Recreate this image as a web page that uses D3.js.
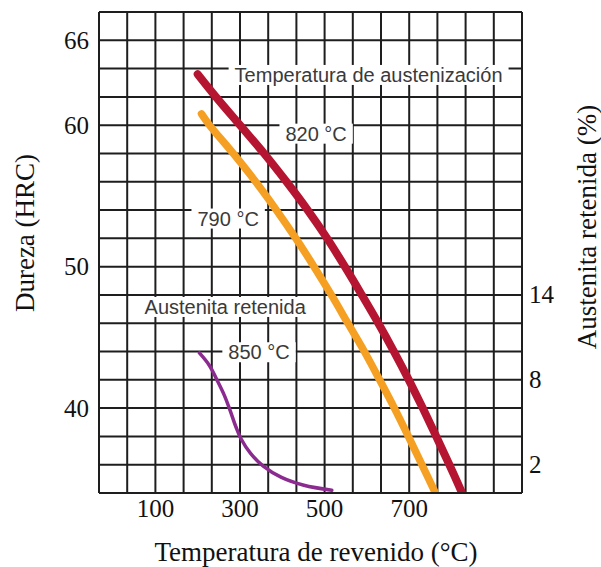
<!DOCTYPE html>
<html>
<head>
<meta charset="utf-8">
<script src="https://cdn.jsdelivr.net/npm/d3@7"></script>
<style>
	body { margin: 0; background: #fff; }
	svg { display: block; }
</style>
</head>
<body>
<div id="chart"></div>
<script>
// tick labels
var tempTicks = [100, 300, 500, 700];
var hrcTicks = [40, 50, 60, 66];
var austTicks = [2, 8, 14];

// dureza (HRC) vs temperatura de revenido, por temperatura de austenizacion
var curve820 = [[200, 63.6], [243, 62], [300, 60], [357, 58], [410, 56], [460, 54], [506, 52], [548, 50],
	[588, 48], [627, 46], [664, 44], [699, 42], [732, 40], [764, 38], [795, 36], [825, 34]];
var curve790 = [[209, 60.8], [228, 60], [284, 58], [337, 56], [386, 54], [432, 52], [475, 50], [516, 48],
	[555, 46], [594, 44], [630, 42], [665, 40], [698, 38], [730, 36], [762, 34]];
// austenita retenida (%) a 850 C
var curve850 = [[204, 9.9], [228, 9.0], [247, 7.9], [263, 6.9], [277, 5.8], [290, 4.7], [303, 3.8],
	[325, 2.8], [355, 1.9], [398, 1.1], [451, 0.55], [517, 0.2]];

var labels = [
	{ "text": "Temperatura de austenización", "t": 604, "h": 63.55 },
	{ "text": "820 °C", "t": 480, "h": 59.4 },
	{ "text": "790 °C", "t": 272, "h": 53.4 },
	{ "text": "Austenita retenida", "t": 265, "h": 47.15 },
	{ "text": "850 °C", "t": 345, "h": 43.95 }
];

var W = 601, H = 567;
var plotLeft = 99, plotRight = 522, plotTop = 12, plotBottom = 493;

var svg = d3.select("#chart").append("svg")
	.attr("width", W)
	.attr("height", H);

var x = d3.scaleLinear().domain([-100 / 3, 2900 / 3]).range([plotLeft, plotRight]);
var y = d3.scaleLinear().domain([34, 68]).range([plotBottom, plotTop]);
var yR = d3.scaleLinear().domain([0, 34]).range([plotBottom, plotTop]);

var serif = "'Liberation Serif', 'Times New Roman', serif";
var sans = "'Liberation Sans', Arial, sans-serif";

// grid
var grid = svg.append("g").attr("stroke", "#1e1e1e").attr("stroke-width", 2);
grid.selectAll("line.v").data(d3.range(16)).enter().append("line")
	.attr("class", "v")
	.attr("x1", function(i) { return x(-100 / 3 + i * 200 / 3); })
	.attr("x2", function(i) { return x(-100 / 3 + i * 200 / 3); })
	.attr("y1", plotTop).attr("y2", plotBottom);
grid.selectAll("line.h").data(d3.range(34, 69, 2)).enter().append("line")
	.attr("class", "h")
	.attr("y1", function(d) { return y(d); })
	.attr("y2", function(d) { return y(d); })
	.attr("x1", plotLeft).attr("x2", plotRight);

// label boxes hide the grid behind the text
var lab = svg.append("g");
labels.forEach(function(l) {
	var g = lab.append("g");
	var rect = g.append("rect").attr("fill", "#fff");
	var txt = g.append("text")
		.attr("x", x(l.t)).attr("y", y(l.h))
		.attr("text-anchor", "middle")
		.attr("dominant-baseline", "central")
		.attr("font-family", sans)
		.attr("font-size", 20)
		.attr("fill", "#3a3a3a")
		.text(l.text);
	var bb = txt.node().getBBox();
	rect.attr("x", bb.x - 6).attr("y", bb.y + 1)
		.attr("width", bb.width + 12).attr("height", bb.height - 2);
});

// curves
svg.append("clipPath").attr("id", "plot").append("rect")
	.attr("x", plotLeft).attr("y", plotTop).attr("width", plotRight - plotLeft).attr("height", plotBottom - plotTop - 1);

var lineL = d3.line()
	.x(function(d) { return x(d[0]); })
	.y(function(d) { return y(d[1]); })
	.curve(d3.curveCatmullRom);
var lineR = d3.line()
	.x(function(d) { return x(d[0]); })
	.y(function(d) { return yR(d[1]); })
	.curve(d3.curveCatmullRom);

var curves = svg.append("g").attr("clip-path", "url(#plot)").attr("fill", "none").attr("stroke-linecap", "round");
curves.append("path").attr("d", lineL(curve790)).attr("stroke", "#f5a022").attr("stroke-width", 7.5);
curves.append("path").attr("d", lineL(curve820)).attr("stroke", "#b51530").attr("stroke-width", 8);
curves.append("path").attr("d", lineR(curve850)).attr("stroke", "#8c2b8f").attr("stroke-width", 3.5);

// tick labels
svg.selectAll("text.hrc").data(hrcTicks).enter().append("text")
	.attr("class", "hrc")
	.attr("x", 89).attr("y", function(d) { return y(d); })
	.attr("text-anchor", "end").attr("dominant-baseline", "central")
	.attr("font-family", serif).attr("font-size", 25).attr("fill", "#111")
	.text(function(d) { return d; });
svg.selectAll("text.aust").data(austTicks).enter().append("text")
	.attr("class", "aust")
	.attr("x", 529).attr("y", function(d) { return yR(d); })
	.attr("text-anchor", "start").attr("dominant-baseline", "central")
	.attr("font-family", serif).attr("font-size", 25).attr("fill", "#111")
	.text(function(d) { return d; });
svg.selectAll("text.temp").data(tempTicks).enter().append("text")
	.attr("class", "temp")
	.attr("x", function(d) { return x(d); }).attr("y", 517)
	.attr("text-anchor", "middle")
	.attr("font-family", serif).attr("font-size", 25).attr("fill", "#111")
	.text(function(d) { return d; });

// axis titles
svg.append("text")
	.attr("x", 316).attr("y", 561)
	.attr("text-anchor", "middle")
	.attr("font-family", serif).attr("font-size", 27).attr("fill", "#111")
	.text("Temperatura de revenido (°C)");
svg.append("text")
	.attr("transform", "translate(25,233) rotate(-90)")
	.attr("text-anchor", "middle").attr("dominant-baseline", "central")
	.attr("font-family", serif).attr("font-size", 27).attr("fill", "#111")
	.text("Dureza (HRC)");
svg.append("text")
	.attr("transform", "translate(587,227) rotate(-90)")
	.attr("text-anchor", "middle").attr("dominant-baseline", "central")
	.attr("font-family", serif).attr("font-size", 27).attr("fill", "#111")
	.text("Austenita retenida (%)");
</script>
</body>
</html>
